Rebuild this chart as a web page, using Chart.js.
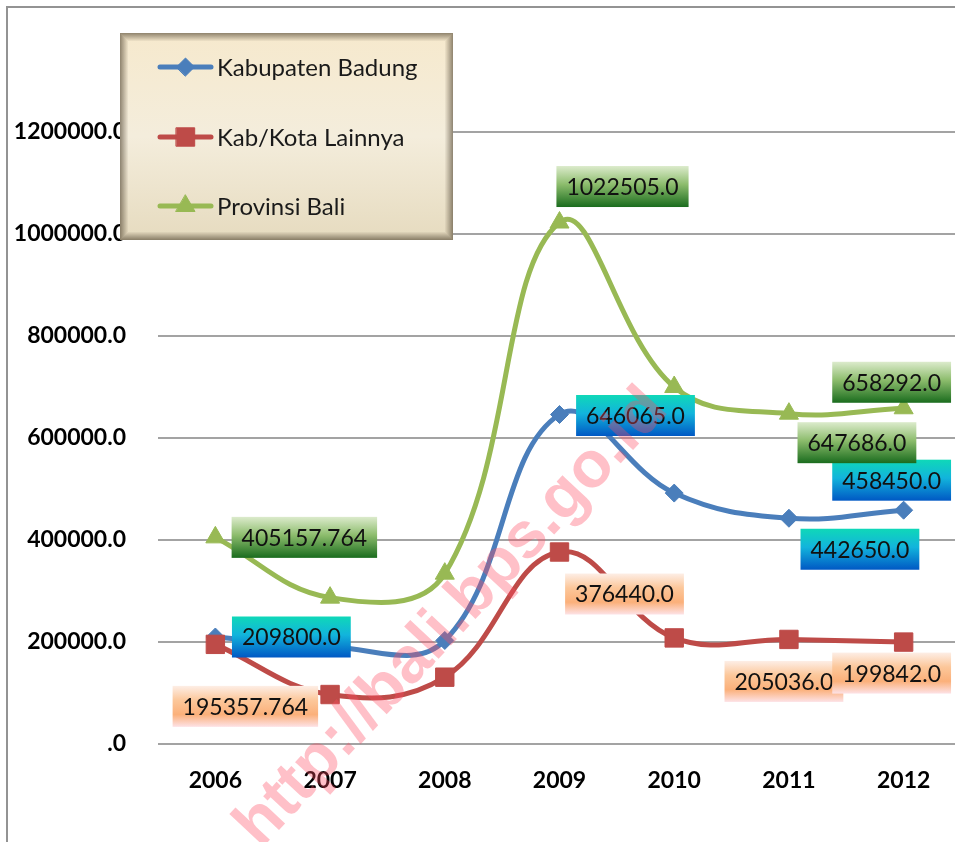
<!DOCTYPE html>
<html>
<head>
<meta charset="utf-8">
<script src="https://cdn.jsdelivr.net/npm/chart.js@4.4.0/dist/chart.umd.min.js"></script>
<style>
html, body { margin: 0; padding: 0; background: #fff; overflow: hidden; }
canvas { display: block; }
</style>
</head>
<body>
<canvas id="myChart" width="975" height="842"></canvas>
<script>
// Data
const years = ["2006", "2007", "2008", "2009", "2010", "2011", "2012"];
const badung = [209800, 190000, 203000, 646065, 492000, 442650, 458450];
const lainnya = [195357.764, 97000, 131000, 376440, 208000, 205036, 199842];
const bali = [405157.764, 287000, 334000, 1022505, 700000, 647686, 658292];
const yTicks = [0, 200000, 400000, 600000, 800000, 1000000, 1200000];
const labelledYears = [0, 3, 5, 6]; // years that carry a value label

const seriesNames = ["Kabupaten Badung", "Kab/Kota Lainnya", "Provinsi Bali"];

// label box centre offsets from the point, per series (same order as labelledYears)
const labelOffsets = [
    [[76, 0], [76, 1], [71, 31], [-12, -30]],
    [[30, 62], [65, 42], [-5, 42], [-12, 31]],
    [[89, 0], [63, -36], [68, 29], [-12, -26]],
];

// gradient stops for the label boxes
const labelFills = [
    [[0, "#0fd8b8"], [0.45, "#12b4dc"], [1, "#0058c4"]],
    [[0, "#fdeee6"], [0.35, "#fcc79a"], [0.7, "#fbb07a"], [1, "#fde2e6"]],
    [[0, "#dcebcc"], [0.45, "#8cbc6c"], [1, "#1a6c1e"]],
];

const colors = ["#4a7ebb", "#be4b48", "#98b954"];
const pointStyles = ["rectRot", "rect", "triangle"];
const pointSizes = [9, 13, 11];

const formatValue = (v) => (Number.isInteger(v) ? v + ".0" : String(v));

const canvas = document.querySelector("#myChart");

// Value labels
const valueLabels = {
    id: "valueLabels",
    afterDatasetsDraw(chart) {
        const ctx = chart.ctx;
        ctx.save();
        ctx.font = '23px "Lato"';
        ctx.textAlign = "center";
        ctx.textBaseline = "middle";
        chart.data.datasets.forEach((ds, i) => {
            const meta = chart.getDatasetMeta(i);
            labelledYears.forEach((idx, k) => {
                const pt = meta.data[idx];
                const text = formatValue(ds.data[idx]);
                const cx = pt.x + labelOffsets[i][k][0];
                const cy = pt.y + labelOffsets[i][k][1];
                const w = ctx.measureText(text).width + 20;
                const h = 41;
                const grad = ctx.createLinearGradient(0, cy - h / 2, 0, cy + h / 2);
                labelFills[i].forEach((s) => grad.addColorStop(s[0], s[1]));
                ctx.fillStyle = grad;
                ctx.fillRect(cx - w / 2, cy - h / 2, w, h);
                ctx.fillStyle = "#111";
                ctx.fillText(text, cx, cy + 1);
            });
        });
        ctx.restore();
    },
};

// Legend box, outer frame and watermark
const extras = {
    id: "extras",
    afterDraw(chart) {
        const ctx = chart.ctx;
        ctx.save();

        // outer frame
        ctx.strokeStyle = "#939393";
        ctx.lineWidth = 2;
        ctx.strokeRect(7, 7, 1100, 1100);

        // legend
        const lx = 120, ly = 33, lw = 333, lh = 207;
        const g = ctx.createLinearGradient(0, ly, 0, ly + lh);
        g.addColorStop(0, "#f6e9cd");
        g.addColorStop(0.5, "#f4eddc");
        g.addColorStop(1, "#e6dbbf");
        ctx.fillStyle = g;
        ctx.fillRect(lx, ly, lw, lh);
        for (let i = 0; i < 8; i++) {
            ctx.strokeStyle = `rgba(70, 58, 40, ${0.55 * (1 - i / 8)})`;
            ctx.lineWidth = 1;
            ctx.strokeRect(lx + i + 0.5, ly + i + 0.5, lw - 2 * i - 1, lh - 2 * i - 1);
        }
        const rows = [67, 137, 206];
        rows.forEach((y, i) => {
            ctx.strokeStyle = colors[i];
            ctx.lineWidth = 5;
            ctx.lineCap = "round";
            ctx.beginPath();
            ctx.moveTo(160, y);
            ctx.lineTo(211, y);
            ctx.stroke();
            ctx.fillStyle = colors[i];
            ctx.strokeStyle = colors[i];
            ctx.lineWidth = 1;
            Chart.helpers.drawPoint(ctx, { pointStyle: pointStyles[i], radius: pointSizes[i], borderWidth: 1 }, 185.5, y);
            ctx.fillStyle = "#1a1a1a";
            ctx.font = '24px "Lato"';
            ctx.textAlign = "left";
            ctx.textBaseline = "middle";
            ctx.fillText(seriesNames[i], 217, y + 1);
        });

        // watermark
        ctx.translate(452, 618);
        ctx.rotate((-47 * Math.PI) / 180);
        ctx.font = 'bold 65px "Liberation Sans"';
        ctx.fillStyle = "rgba(255, 75, 98, 0.35)";
        ctx.textAlign = "center";
        ctx.textBaseline = "middle";
        ctx.fillText("http://bali.bps.go.id", 0, 0);

        ctx.restore();
    },
};

const makeDataset = (label, data, i) => ({
    label,
    data,
    borderColor: colors[i],
    backgroundColor: colors[i],
    borderWidth: 5,
    tension: 0.4,
    pointStyle: pointStyles[i],
    pointRadius: pointSizes[i],
    pointHoverRadius: pointSizes[i],
    pointBorderWidth: 1,
    order: 3 - i,
});

const config = {
    type: "line",
    data: {
        labels: years,
        datasets: [
            makeDataset(seriesNames[0], badung, 0),
            makeDataset(seriesNames[1], lainnya, 1),
            makeDataset(seriesNames[2], bali, 2),
        ],
    },
    options: {
        responsive: false,
        animation: false,
        layout: { padding: { top: 30, bottom: 38, left: 0, right: 5 } },
        plugins: { legend: { display: false }, tooltip: { enabled: false } },
        scales: {
            x: {
                offset: true,
                grid: { display: false },
                border: { display: false },
                ticks: { color: "#000", font: { family: "Lato", weight: "bold", size: 23 }, padding: 15 },
                afterFit: (scale) => { scale.height = 60; },
            },
            y: {
                min: 0,
                max: 1400000,
                border: { display: false },
                grid: { color: "#a3a3a3", lineWidth: 2, drawTicks: true, tickLength: 28, tickColor: "rgba(0,0,0,0)" },
                ticks: {
                    color: "#000",
                    font: { family: "Lato", weight: "bold", size: 23 },
                    padding: 4,
                    callback: (v) => (v === 0 ? ".0" : v + ".0"),
                },
                afterBuildTicks: (scale) => { scale.ticks = yTicks.map((v) => ({ value: v })); },
                afterFit: (scale) => { scale.width = 158; },
            },
        },
    },
    plugins: [valueLabels, extras],
};

const myChart = new Chart(canvas, config);
</script>
</body>
</html>
